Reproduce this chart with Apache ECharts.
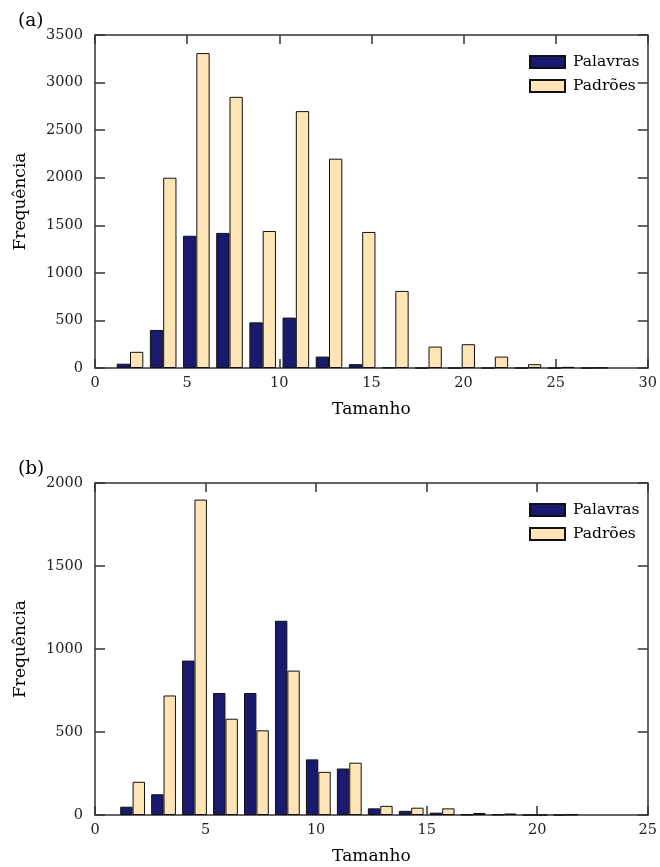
<!DOCTYPE html>
<html>
<head>
<meta charset="utf-8">
<script src="https://cdn.jsdelivr.net/npm/echarts@6/dist/echarts.min.js"></script>
<style>html,body{margin:0;padding:0;background:#fff}#c{width:660px;height:867px}</style>
</head>
<body>
<div id="c"></div>
<script>
// Panel (a): histogram bin centres and counts
var binsA = [1.9, 3.7, 5.5, 7.3, 9.1, 10.9, 12.7, 14.5, 16.3, 18.1, 19.9, 21.7, 23.5, 25.3, 27.1];
var palavrasA = [45, 400, 1390, 1420, 480, 530, 120, 40, 5, 0, 0, 0, 0, 0, 0];
var padroesA = [170, 2000, 3310, 2850, 1440, 2700, 2200, 1430, 810, 225, 250, 120, 40, 12, 3];
// Panel (b)
var binsB = [1.7, 3.1, 4.5, 5.9, 7.3, 8.7, 10.1, 11.5, 12.9, 14.3, 15.7, 17.1, 18.5, 19.9, 21.3];
var palavrasB = [50, 125, 930, 735, 735, 1170, 335, 280, 40, 25, 14, 3, 3, 0, 0];
var padroesB = [200, 720, 1900, 580, 510, 870, 260, 315, 55, 44, 40, 12, 9, 0, 3];
var seriesNames = ['Palavras', 'Padrões'];
var xTicksA = {min: 0, max: 30, interval: 5};
var xTicksB = {min: 0, max: 25, interval: 5};
var yTicksA = {min: 0, max: 3500, interval: 500};
var yTicksB = {min: 0, max: 2000, interval: 500};

var FONT = 'DejaVu Serif';
var AXC = '#333';
function zip(xs, ys){ return xs.map(function(x,i){ return [x, ys[i]]; }); }
function plain(v){ return String(v); }

function xAxis(g, t, main){
  return {
    gridIndex: g, type: 'value', min: t.min, max: t.max, interval: t.interval,
    position: main ? 'bottom' : 'top',
    name: main ? 'Tamanho' : '', nameLocation: 'middle', nameGap: 33,
    nameTextStyle: {fontFamily: FONT, fontSize: 17, color: '#000'},
    axisLine: {show: true, onZero: false, lineStyle: {color: AXC, width: 1.5}},
    axisTick: {show: true, inside: true, length: 9, lineStyle: {color: AXC, width: 1.5}},
    axisLabel: {show: main, fontFamily: FONT, fontSize: 14.5, color: '#222', margin: 8, formatter: plain},
    splitLine: {show: false}
  };
}
function yAxis(g, t, main){
  return {
    gridIndex: g, type: 'value', min: t.min, max: t.max, interval: t.interval,
    position: main ? 'left' : 'right',
    name: main ? 'Frequência' : '', nameLocation: 'middle', nameGap: 66,
    nameTextStyle: {fontFamily: FONT, fontSize: 17, color: '#000'},
    axisLine: {show: true, onZero: false, lineStyle: {color: AXC, width: 1.5}},
    axisTick: {show: true, inside: true, length: 10, lineStyle: {color: AXC, width: 1.5}},
    axisLabel: {show: main, fontFamily: FONT, fontSize: 14.5, color: '#222', margin: 12, formatter: plain},
    splitLine: {show: false}
  };
}
function bar(name, g, data, color, w){
  return {
    name: name, type: 'bar', xAxisIndex: g * 2, yAxisIndex: g * 2,
    data: data, barWidth: w, barGap: '0%',
    itemStyle: {color: color, borderColor: '#111', borderWidth: 1},
    emphasis: {disabled: true}, animation: false
  };
}
function legend(top){
  return {
    data: seriesNames, orient: 'vertical', left: 524, top: top,
    icon: 'rect', itemWidth: 35, itemHeight: 12, itemGap: 8,
    textStyle: {fontFamily: FONT, fontSize: 15.5, color: '#000', padding: [0, 0, 0, 3]},
    selectedMode: false
  };
}

var chart = echarts.init(document.getElementById('c'), null, {renderer: 'canvas'});
chart.setOption({
  animation: false,
  backgroundColor: '#fff',
  grid: [
    {left: 95, top: 35, width: 555, height: 333},
    {left: 95, top: 483, width: 555, height: 332}
  ],
  xAxis: [xAxis(0, xTicksA, true), xAxis(0, xTicksA, false), xAxis(1, xTicksB, true), xAxis(1, xTicksB, false)],
  yAxis: [yAxis(0, yTicksA, true), yAxis(0, yTicksA, false), yAxis(1, yTicksB, true), yAxis(1, yTicksB, false)],
  legend: [legend(49), legend(497)],
  graphic: [
    {type: 'text', left: 18, top: 12, style: {text: '(a)', font: '18.5px "DejaVu Serif"', fill: '#000'}},
    {type: 'text', left: 18, top: 460, style: {text: '(b)', font: '18.5px "DejaVu Serif"', fill: '#000'}}
  ],
  series: [
    bar(seriesNames[0], 0, zip(binsA, palavrasA), '#191970', 13.3),
    bar(seriesNames[1], 0, zip(binsA, padroesA), '#FFE4B5', 13.3),
    bar(seriesNames[0], 1, zip(binsB, palavrasB), '#191970', 12.4),
    bar(seriesNames[1], 1, zip(binsB, padroesB), '#FFE4B5', 12.4)
  ]
});
</script>
</body>
</html>
